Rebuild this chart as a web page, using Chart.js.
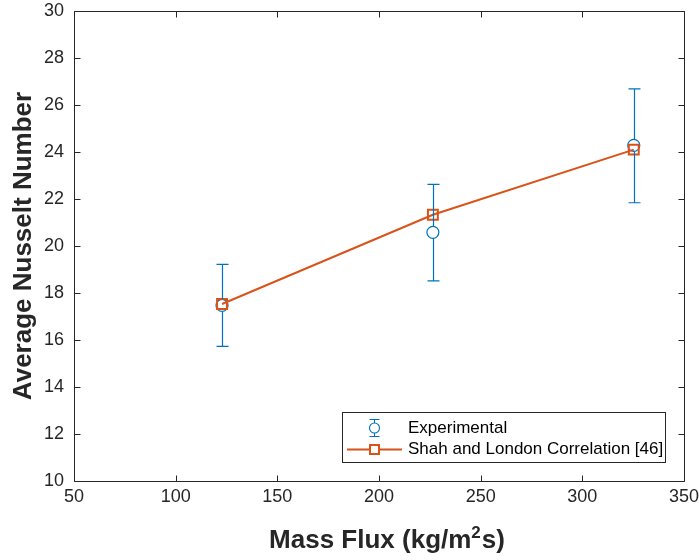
<!DOCTYPE html>
<html>
<head>
<meta charset="utf-8">
<script src="https://cdn.jsdelivr.net/npm/chart.js@4.4.1/dist/chart.umd.min.js"></script>
<style>
  html, body { margin: 0; padding: 0; background: #ffffff; }
  #wrap { width: 699px; height: 560px; position: relative; }
</style>
</head>
<body>
<div id="wrap"><canvas id="c" width="699" height="560"></canvas></div>
<script>
// ---- data ----
const massFlux = [122.8, 226.5, 325.3];
const expNu = [17.47, 20.58, 24.28];
const expLower = [15.73, 18.52, 21.84];
const expUpper = [19.22, 22.62, 26.69];
const shahNu = [17.53, 21.33, 24.10];
const xTicks = [50, 100, 150, 200, 250, 300, 350];
const yTicks = [10, 12, 14, 16, 18, 20, 22, 24, 26, 28, 30];
const seriesNames = ['Experimental', 'Shah and London Correlation [46]'];
const xTitleMain = 'Mass Flux (kg/m';
const xTitleSup = '2';
const xTitleEnd = 's)';
const yTitle = 'Average Nusselt Number';

const BLUE = '#0072BD';
const ORANGE = '#D95319';
const AXIS = '#262626';
const FONT = '"Liberation Sans", Arial, sans-serif';

const errorBarPlugin = {
  id: 'errorBars',
  afterDatasetsDraw(chart) {
    const { ctx, scales: { x, y } } = chart;
    ctx.save();
    ctx.strokeStyle = BLUE;
    ctx.lineWidth = 1.2;
    for (let i = 0; i < massFlux.length; i++) {
      const px = Math.round(x.getPixelForValue(massFlux[i])) + 0.5;
      const pl = y.getPixelForValue(expLower[i]);
      const pu = y.getPixelForValue(expUpper[i]);
      const pc = y.getPixelForValue(expNu[i]);
      ctx.beginPath();
      ctx.moveTo(px, pu); ctx.lineTo(px, pc - 6);
      ctx.moveTo(px, pc + 6); ctx.lineTo(px, pl);
      ctx.moveTo(px - 6, pu); ctx.lineTo(px + 6, pu);
      ctx.moveTo(px - 6, pl); ctx.lineTo(px + 6, pl);
      ctx.stroke();
    }
    ctx.restore();
  }
};

const boxPlugin = {
  id: 'boxAxes',
  afterDraw(chart) {
    const { ctx, chartArea: a, scales: { x, y } } = chart;
    ctx.save();
    ctx.strokeStyle = AXIS;
    ctx.lineWidth = 1;
    const L = Math.round(a.left) + 0.5, R = Math.round(a.right) + 0.5;
    const T = Math.round(a.top) + 0.5, B = Math.round(a.bottom) + 0.5;
    ctx.beginPath();
    ctx.rect(L, T, R - L, B - T);
    const tl = 6;
    xTicks.forEach(v => {
      const p = Math.round(x.getPixelForValue(v)) + 0.5;
      ctx.moveTo(p, B); ctx.lineTo(p, B - tl);
      ctx.moveTo(p, T); ctx.lineTo(p, T + tl);
    });
    yTicks.forEach(v => {
      const p = Math.round(y.getPixelForValue(v)) + 0.5;
      ctx.moveTo(L, p); ctx.lineTo(L + tl, p);
      ctx.moveTo(R, p); ctx.lineTo(R - tl, p);
    });
    ctx.stroke();

    // x-axis title with superscript
    ctx.fillStyle = AXIS;
    ctx.textBaseline = 'alphabetic';
    ctx.textAlign = 'left';
    const bigF = 'bold 26px ' + FONT, supF = 'bold 17px ' + FONT;
    ctx.font = bigF; const w1 = ctx.measureText(xTitleMain).width;
    const w3 = ctx.measureText(xTitleEnd).width;
    ctx.font = supF; const w2 = ctx.measureText(xTitleSup).width + 1;
    const total = w1 + w2 + w3;
    const cx = (a.left + a.right) / 2 + 8;
    let sx = cx - total / 2;
    const base = a.bottom + 67;
    ctx.font = bigF; ctx.fillText(xTitleMain, sx, base);
    ctx.font = supF; ctx.fillText(xTitleSup, sx + w1, base - 10);
    ctx.font = bigF; ctx.fillText(xTitleEnd, sx + w1 + w2, base);

    // legend
    const lx = 342.5, ly = 412.5, lw = 323, lh = 50;
    ctx.fillStyle = '#ffffff';
    ctx.fillRect(lx, ly, lw, lh);
    ctx.strokeStyle = AXIS;
    ctx.strokeRect(lx, ly, lw, lh);
    const ix = 374.5, iy1 = 428, iy2 = 449.5;
    ctx.strokeStyle = BLUE;
    ctx.lineWidth = 1.1;
    ctx.beginPath();
    ctx.moveTo(ix, iy1 - 8.5); ctx.lineTo(ix, iy1 - 5);
    ctx.moveTo(ix, iy1 + 5); ctx.lineTo(ix, iy1 + 8.5);
    ctx.moveTo(ix - 5, iy1 - 8.5); ctx.lineTo(ix + 5, iy1 - 8.5);
    ctx.moveTo(ix - 5, iy1 + 8.5); ctx.lineTo(ix + 5, iy1 + 8.5);
    ctx.stroke();
    ctx.beginPath();
    ctx.arc(ix, iy1, 5, 0, Math.PI * 2);
    ctx.stroke();
    ctx.strokeStyle = ORANGE;
    ctx.lineWidth = 2;
    ctx.beginPath();
    ctx.moveTo(347, iy2); ctx.lineTo(402, iy2);
    ctx.stroke();
    ctx.fillStyle = '#ffffff';
    ctx.fillRect(ix - 4.5, iy2 - 4.5, 9, 9);
    ctx.strokeRect(ix - 4.5, iy2 - 4.5, 9, 9);
    ctx.fillStyle = '#000000';
    ctx.font = '17px ' + FONT;
    ctx.textBaseline = 'middle';
    ctx.fillText(seriesNames[0], 408, iy1);
    ctx.fillText(seriesNames[1], 408, iy2);
    ctx.restore();
  }
};

new Chart(document.getElementById('c'), {
  type: 'line',
  data: {
    datasets: [
      {
        label: seriesNames[0],
        data: massFlux.map((v, i) => ({ x: v, y: expNu[i] })),
        showLine: false,
        borderColor: BLUE,
        backgroundColor: 'rgba(0,0,0,0)',
        pointStyle: 'circle',
        pointRadius: 6,
        pointBorderWidth: 1.2,
        order: 1
      },
      {
        label: seriesNames[1],
        data: massFlux.map((v, i) => ({ x: v, y: shahNu[i] })),
        borderColor: ORANGE,
        backgroundColor: 'rgba(0,0,0,0)',
        borderWidth: 2,
        pointStyle: 'rect',
        pointRadius: 7,
        pointBorderWidth: 2,
        tension: 0,
        order: 0
      }
    ]
  },
  options: {
    responsive: false,
    animation: false,
    devicePixelRatio: 1,
    layout: { padding: { left: 0, right: 0, top: 0, bottom: 0 } },
    plugins: { legend: { display: false }, tooltip: { enabled: false } },
    scales: {
      x: {
        type: 'linear',
        min: 50, max: 350,
        afterBuildTicks(s) { s.ticks = xTicks.map(v => ({ value: v })); },
        afterFit(s) { s.height = 79; s.paddingRight = 15; s.paddingLeft = 0; },
        grid: { display: false, drawTicks: false },
        border: { display: false },
        ticks: { color: AXIS, font: { family: FONT, size: 18 }, padding: 5, maxRotation: 0 },
        title: { display: false }
      },
      y: {
        type: 'linear',
        min: 10, max: 30,
        afterBuildTicks(s) { s.ticks = yTicks.map(v => ({ value: v })); },
        afterFit(s) { s.width = 74; s.paddingTop = 11; s.paddingBottom = 0; },
        grid: { display: false, drawTicks: false },
        border: { display: false },
        ticks: { color: AXIS, font: { family: FONT, size: 18 }, padding: 10 },
        title: {
          display: true,
          text: yTitle,
          color: AXIS,
          font: { family: FONT, size: 26, weight: 'bold' },
          padding: { top: 8, bottom: 0 }
        }
      }
    }
  },
  plugins: [errorBarPlugin, boxPlugin]
});
</script>
</body>
</html>
